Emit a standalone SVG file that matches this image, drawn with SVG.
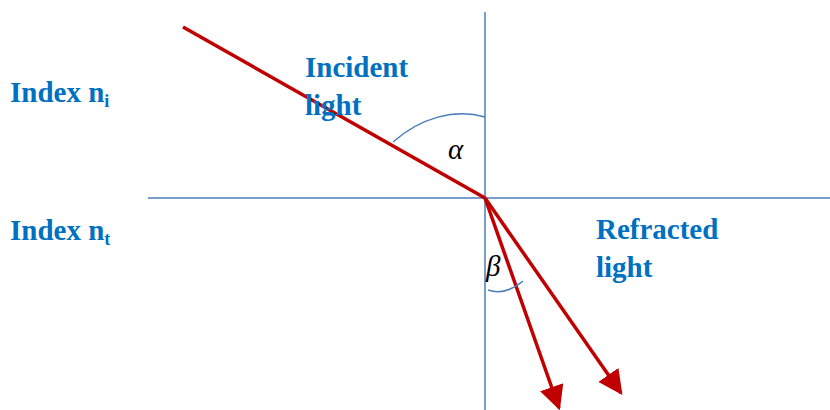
<svg xmlns="http://www.w3.org/2000/svg" width="830" height="410" viewBox="0 0 830 410">
<defs>
<style>
.lbl{font-family:"Liberation Serif","Times New Roman",serif;font-weight:bold;fill:#0070C0;font-size:29px}
.sub{font-size:18px}
.ax{stroke:#4A7EBB;stroke-width:1.5;fill:none}
.ray{stroke:#C00000;stroke-width:3.5;fill:none}
.ang{font-family:"Liberation Serif","Times New Roman",serif;font-style:italic;font-size:29px;fill:#000}
</style>
<marker id="ah" viewBox="0 0 10 10" refX="9" refY="5" markerWidth="7" markerHeight="7" markerUnits="strokeWidth" orient="auto">
<path d="M0,0 L10,5 L0,10 z" fill="#C00000"/>
</marker>
</defs>
<rect width="830" height="410" fill="#fff"/>
<g id="axes">
<line class="ax" x1="485" y1="12" x2="485" y2="410"/>
<line class="ax" x1="148" y1="198" x2="830" y2="198"/>
</g>
<g id="connectors">
<line class="ray" x1="183" y1="27" x2="485" y2="198"/>
<line class="ray" x1="485" y1="198" x2="559" y2="408" marker-end="url(#ah)"/>
<line class="ray" x1="485" y1="198" x2="621" y2="393" marker-end="url(#ah)"/>
</g>
<g id="angles">
<path class="ax" d="M393,142 C420,118 455,108 485,117"/>
<path class="ax" d="M488,290 Q505,296 523,281"/>
<text class="ang" x="448" y="159">α</text>
<text class="ang" x="486" y="276">β</text>
</g>
<g id="label-ni"><text class="lbl" x="10" y="102">Index n<tspan class="sub" dy="5">i</tspan></text></g>
<g id="label-nt"><text class="lbl" x="10" y="240">Index n<tspan class="sub" dy="5">t</tspan></text></g>
<g id="label-incident"><text class="lbl" x="305" y="77">Incident</text><text class="lbl" x="305" y="115">light</text></g>
<g id="label-refracted"><text class="lbl" x="596" y="239">Refracted</text><text class="lbl" x="596" y="277">light</text></g>
</svg>
